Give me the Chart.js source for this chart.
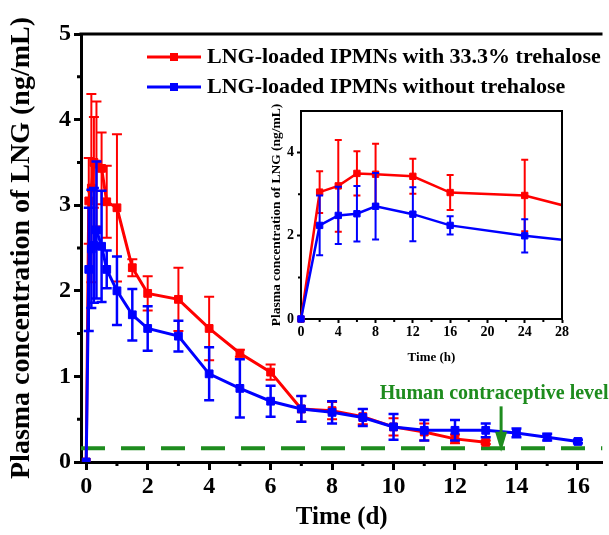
<!DOCTYPE html>
<html><head><meta charset="utf-8">
<script src="https://cdn.jsdelivr.net/npm/chart.js@4"></script>
<style>
html,body{margin:0;padding:0;background:#fff;}
#wrap{position:relative;width:609px;height:535px;overflow:hidden;background:#fff;}
#main{position:absolute;left:0;top:0;}
#inset{position:absolute;left:250px;top:95px;}
</style></head><body>
<div id="wrap">
<canvas id="main" width="609" height="535"></canvas>
<canvas id="inset" width="330" height="280"></canvas>
</div>
<script>
// ---- data ----
const timeDays = [0, 0.083, 0.167, 0.25, 0.333, 0.5, 0.667, 1, 1.5, 2, 3, 4, 5, 6, 7, 8, 9, 10, 11, 12, 13, 14, 15, 16];
const timeHours = [0, 2, 4, 6, 8, 12, 16, 24, 36];
const redMean = [0, 3.05, 3.2, 3.5, 3.48, 3.43, 3.04, 2.97, 2.27, 1.97, 1.9, 1.56, 1.27, 1.05, 0.62, 0.6, 0.53, 0.41, 0.35, 0.27, 0.23];
const redSD   = [0, 0.5, 1.1, 0.53, 0.73, 0.42, 0.42, 0.86, 0.1, 0.2, 0.37, 0.37, 0.04, 0.09, 0.15, 0.1, 0.09, 0.1, 0.1, 0.05, 0.02];
const blueMean = [0, 2.25, 2.49, 2.53, 2.71, 2.52, 2.25, 2.0, 1.72, 1.56, 1.47, 1.03, 0.86, 0.71, 0.62, 0.58, 0.52, 0.41, 0.37, 0.37, 0.37, 0.34, 0.29, 0.24];
const blueSD   = [0, 0.72, 0.69, 0.67, 0.8, 0.65, 0.22, 0.4, 0.3, 0.26, 0.18, 0.31, 0.34, 0.18, 0.15, 0.13, 0.1, 0.15, 0.12, 0.12, 0.08, 0.05, 0.04, 0.02];
const seriesLabels = ['LNG-loaded IPMNs with 33.3% trehalose', 'LNG-loaded IPMNs without trehalose'];
const xTicksMain = [0, 2, 4, 6, 8, 10, 12, 14, 16];
const xMinorMain = [1, 3, 5, 7, 9, 11, 13, 15];
const yTicksMain = [0, 1, 2, 3, 4, 5];
const yMinorMain = [0.5, 1.5, 2.5, 3.5, 4.5];
const xTicksInset = [0, 4, 8, 12, 16, 20, 24, 28];
const xMinorInset = [2, 6, 10, 14, 18, 22, 26];
const yTicksInset = [0, 2, 4];
const yMinorInset = [1, 3];
const contraceptiveLevel = 0.16;
const levelLabel = 'Human contraceptive level';
const levelLabelAt = {x: 9.55, y: 0.8};
const arrowAt = {x: 13.5, from: 0.65, to: 0.12};

// ---- styles ----
const SERIF = "'Liberation Serif','Times New Roman',serif";
const RED = '#ff0000', BLUE = '#0000ff', GREEN = '#1e8c1e';
const pts = (xs, ys) => ys.map((y, i) => ({x: xs[i], y}));

const errorBars = {
  id: 'errorBars',
  afterDatasetDraw(chart, args) {
    const ds = chart.data.datasets[args.index];
    if (!ds.errors) return;
    const {ctx, chartArea: ca, scales: {x, y}} = chart;
    ctx.save();
    ctx.beginPath();
    ctx.rect(ca.left - 10, ca.top - 10, ca.right - ca.left + 10, ca.bottom - ca.top + 20);
    ctx.clip();
    ctx.strokeStyle = ds.borderColor;
    ctx.lineWidth = ds.errWidth;
    ds.data.forEach((p, i) => {
      const e = ds.errors[i];
      if (!e) return;
      const px = x.getPixelForValue(p.x);
      const t = y.getPixelForValue(p.y + e), b = y.getPixelForValue(p.y - e);
      ctx.beginPath();
      ctx.moveTo(px, t); ctx.lineTo(px, b);
      ctx.moveTo(px - ds.errCap, t); ctx.lineTo(px + ds.errCap, t);
      ctx.moveTo(px - ds.errCap, b); ctx.lineTo(px + ds.errCap, b);
      ctx.stroke();
    });
    ctx.restore();
  }
};

const frameAndMinor = {
  id: 'frameAndMinor',
  afterDraw(chart, args, o) {
    const {ctx, chartArea: ca, scales: {x, y}} = chart;
    ctx.save();
    ctx.strokeStyle = '#000';
    ctx.lineWidth = o.width;
    ctx.beginPath();
    ctx.moveTo(ca.left - o.width / 2, ca.top); ctx.lineTo(ca.right + (o.right ? o.width / 2 : 0), ca.top);
    if (o.right) { ctx.moveTo(ca.right, ca.top); ctx.lineTo(ca.right, ca.bottom); }
    ctx.stroke();
    ctx.lineWidth = o.tickWidth;
    ctx.beginPath();
    o.xMinor.forEach(v => { const px = x.getPixelForValue(v); ctx.moveTo(px, ca.bottom); ctx.lineTo(px, ca.bottom + o.len); });
    o.yMinor.forEach(v => { const py = y.getPixelForValue(v); ctx.moveTo(ca.left, py); ctx.lineTo(ca.left - o.len, py); });
    ctx.stroke();
    ctx.restore();
  }
};

const mainExtras = {
  id: 'mainExtras',
  afterDatasetsDraw(chart) {
    const {ctx, scales: {x, y}} = chart;
    ctx.save();
    // arrow
    const ax = x.getPixelForValue(arrowAt.x);
    const a1 = y.getPixelForValue(arrowAt.from), a2 = y.getPixelForValue(arrowAt.to);
    ctx.strokeStyle = GREEN; ctx.fillStyle = GREEN; ctx.lineWidth = 3;
    ctx.beginPath(); ctx.moveTo(ax, a1); ctx.lineTo(ax, a2 - 16); ctx.stroke();
    ctx.beginPath(); ctx.moveTo(ax - 6, a2 - 20); ctx.lineTo(ax + 6, a2 - 20); ctx.lineTo(ax, a2); ctx.closePath(); ctx.fill();
    // level label
    ctx.font = 'bold 20px ' + SERIF;
    ctx.textBaseline = 'middle'; ctx.textAlign = 'left';
    ctx.fillText(levelLabel, x.getPixelForValue(levelLabelAt.x), y.getPixelForValue(levelLabelAt.y));
    // legend
    const items = [[seriesLabels[0], RED, 57], [seriesLabels[1], BLUE, 87]];
    items.forEach(([t, c, ly]) => {
      ctx.strokeStyle = c; ctx.fillStyle = c; ctx.lineWidth = 3;
      ctx.beginPath(); ctx.moveTo(147, ly); ctx.lineTo(201, ly); ctx.stroke();
      ctx.fillRect(174 - 4, ly - 4, 8, 8);
      ctx.fillStyle = '#000';
      ctx.font = 'bold 22px ' + SERIF;
      ctx.fillText(t, 207, ly);
    });
    ctx.restore();
  }
};

const tickFont = (s) => ({family: SERIF, size: s, weight: 'bold'});

new Chart(document.getElementById('main'), {
  type: 'line',
  data: {datasets: [
    {label: seriesLabels[0], data: pts(timeDays, redMean), errors: redSD, errCap: 5, errWidth: 2,
     borderColor: RED, backgroundColor: RED, borderWidth: 3, pointStyle: 'rect', pointRadius: 5.5, pointBorderWidth: 1, order: 2},
    {label: seriesLabels[1], data: pts(timeDays, blueMean), errors: blueSD, errCap: 5, errWidth: 2.5,
     borderColor: BLUE, backgroundColor: BLUE, borderWidth: 3, pointStyle: 'rect', pointRadius: 5.5, pointBorderWidth: 1, order: 1},
    {label: 'level', data: [{x: -0.17, y: contraceptiveLevel}, {x: 16.8, y: contraceptiveLevel}],
     borderColor: GREEN, borderDash: [24, 16], borderWidth: 4, pointRadius: 0, order: 3}
  ]},
  options: {
    responsive: false, animation: false, devicePixelRatio: 1,
    layout: {padding: {top: 34, left: 0, right: 0, bottom: 0}},
    plugins: {legend: {display: false}, tooltip: {enabled: false},
      frameAndMinor: {width: 3, right: false, xMinor: xMinorMain, yMinor: yMinorMain, len: 4, tickWidth: 3}},
    elements: {line: {tension: 0}},
    scales: {
      x: {type: 'linear', min: -0.17, max: 16.8,
        afterFit: s => { s.height = 73; },
        afterBuildTicks: s => { s.ticks = xTicksMain.map(v => ({value: v})); },
        ticks: {font: tickFont(24), color: '#000', padding: 2, maxRotation: 0, autoSkip: false},
        grid: {drawOnChartArea: false, tickLength: 8, tickWidth: 3, tickColor: '#000'},
        border: {width: 3, color: '#000'},
        title: {display: true, text: 'Time (d)', font: tickFont(25), color: '#000', padding: {top: 0, bottom: 2}}},
      y: {type: 'linear', min: 0, max: 5,
        afterFit: s => { s.width = 81; },
        afterBuildTicks: s => { s.ticks = yTicksMain.map(v => ({value: v})); },
        ticks: {font: tickFont(24), color: '#000', padding: 3, autoSkip: false},
        grid: {drawOnChartArea: false, tickLength: 7, tickWidth: 3, tickColor: '#000'},
        border: {width: 3, color: '#000'},
        title: {display: true, text: 'Plasma concentration of LNG (ng/mL)', font: tickFont(28), color: '#000', padding: {top: 5, bottom: 0}}}
    }
  },
  plugins: [errorBars, frameAndMinor, mainExtras]
});

new Chart(document.getElementById('inset'), {
  type: 'line',
  data: {datasets: [
    {label: seriesLabels[0], data: pts(timeHours, redMean.slice(0, timeHours.length)), errors: redSD, errCap: 3.5, errWidth: 2,
     borderColor: RED, backgroundColor: RED, borderWidth: 2.5, pointStyle: 'rect', pointRadius: 4.5, pointBorderWidth: 1, order: 2,
     clip: {left: 8, top: 0, right: 0, bottom: 8}},
    {label: seriesLabels[1], data: pts(timeHours, blueMean.slice(0, timeHours.length)), errors: blueSD, errCap: 3.5, errWidth: 2,
     borderColor: BLUE, backgroundColor: BLUE, borderWidth: 2.5, pointStyle: 'rect', pointRadius: 4.5, pointBorderWidth: 1, order: 1,
     clip: {left: 8, top: 0, right: 0, bottom: 8}}
  ]},
  options: {
    responsive: false, animation: false, devicePixelRatio: 1,
    layout: {padding: {top: 16, left: 0, right: 18, bottom: 0}},
    plugins: {legend: {display: false}, tooltip: {enabled: false},
      frameAndMinor: {width: 2, right: true, xMinor: xMinorInset, yMinor: yMinorInset, len: 3, tickWidth: 2}},
    elements: {line: {tension: 0}},
    scales: {
      x: {type: 'linear', min: 0, max: 28,
        afterFit: s => { s.height = 56; },
        afterBuildTicks: s => { s.ticks = xTicksInset.map(v => ({value: v})); },
        ticks: {font: tickFont(14), color: '#000', padding: 1, maxRotation: 0, autoSkip: false},
        grid: {drawOnChartArea: false, tickLength: 4, tickWidth: 2, tickColor: '#000'},
        border: {width: 2, color: '#000'},
        title: {display: true, text: 'Time (h)', font: tickFont(13), color: '#000', padding: {top: 0, bottom: 10}}},
      y: {type: 'linear', min: 0, max: 5,
        afterFit: s => { s.width = 51; },
        afterBuildTicks: s => { s.ticks = yTicksInset.map(v => ({value: v})); },
        ticks: {font: tickFont(14), color: '#000', padding: 3, autoSkip: false},
        grid: {drawOnChartArea: false, tickLength: 4, tickWidth: 2, tickColor: '#000'},
        border: {width: 2, color: '#000'},
        title: {display: true, text: 'Plasma concentration of LNG (ng/mL)', font: tickFont(13.5), color: '#000', padding: {top: 18, bottom: 0}}}
    }
  },
  plugins: [errorBars, frameAndMinor]
});
</script>
</body></html>
